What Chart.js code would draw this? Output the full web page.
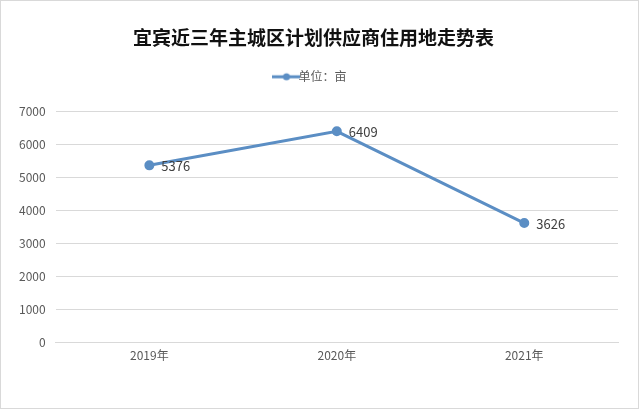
<!DOCTYPE html>
<html>
<head>
<meta charset="utf-8">
<script src="https://cdn.jsdelivr.net/npm/chart.js@4/dist/chart.umd.min.js"></script>
<style>
  html, body { margin: 0; padding: 0; background: #fff; }
  #wrap { width: 637px; height: 407px; border: 1px solid #d9d9d9; position: relative; }
</style>
</head>
<body>
<div id="wrap"><canvas id="myChart" width="637" height="407"></canvas></div>
<script>
'use strict';
const years = ['2019年', '2020年', '2021年'];
const landArea = [5376, 6409, 3626];
const seriesName = '单位：亩';
const titleText = '宜宾近三年主城区计划供应商住用地走势表';

const lineColor = '#5b8ec4';
const font = '"Noto Sans CJK SC", "Microsoft YaHei", sans-serif';

// little line + dot for the legend
function legendIcon() {
  let c = document.createElement('canvas');
  c.width = 28;
  c.height = 10;
  let g = c.getContext('2d');
  g.strokeStyle = lineColor;
  g.lineWidth = 3;
  g.beginPath();
  g.moveTo(0, 5);
  g.lineTo(28, 5);
  g.stroke();
  g.fillStyle = lineColor;
  g.beginPath();
  g.arc(14, 5, 3.5, 0, Math.PI * 2);
  g.fill();
  return c;
}

// extra room under the legend
const legendGap = {
  id: 'legendGap',
  beforeLayout(chart) {
    let lg = chart.legend;
    if (lg && !lg._gapped) {
      let fit = lg.fit;
      lg.fit = function () {
        fit.call(this);
        this.height += 19;
      };
      lg._gapped = true;
    }
  }
};

const valueLabels = {
  id: 'valueLabels',
  afterDatasetsDraw(chart) {
    let ctx = chart.ctx;
    let meta = chart.getDatasetMeta(0);
    ctx.save();
    ctx.font = '13px ' + font;
    ctx.fillStyle = '#404040';
    ctx.textAlign = 'left';
    ctx.textBaseline = 'middle';
    meta.data.forEach(function (pt, i) {
      ctx.fillText(String(landArea[i]), pt.x + 12, pt.y + 1);
    });
    ctx.restore();
  }
};

let ctx = document.getElementById('myChart').getContext('2d');
let myChart = new Chart(ctx, {
  type: 'line',
  data: {
    labels: years,
    datasets: [{
      label: seriesName,
      data: landArea,
      borderColor: lineColor,
      backgroundColor: lineColor,
      borderWidth: 3,
      pointRadius: 3.5,
      pointHoverRadius: 3.5,
      pointStyle: 'circle',
      tension: 0
    }]
  },
  options: {
    responsive: false,
    animation: false,
    layout: { padding: { left: 8, right: 20, top: 25, bottom: 39 } },
    plugins: {
      title: {
        display: true,
        text: titleText,
        color: '#111',
        font: { family: font, size: 19, weight: 'bold' },
        padding: { top: 0, bottom: 12 }
      },
      legend: {
        display: true,
        labels: {
          color: '#595959',
          font: { family: font, size: 12 },
          usePointStyle: true,
          generateLabels: function (chart) {
            return [{
              text: seriesName,
              pointStyle: legendIcon(),
              fillStyle: lineColor,
              strokeStyle: lineColor,
              lineWidth: 0,
              fontColor: '#595959',
              datasetIndex: 0
            }];
          },
          padding: 10
        }
      },
      tooltip: { enabled: false }
    },
    scales: {
      x: {
        offset: true,
        grid: { display: false, drawTicks: false },
        border: { color: '#d9d9d9' },
        ticks: { color: '#595959', font: { family: font, size: 12 }, padding: 6 }
      },
      y: {
        min: 0,
        max: 7000,
        ticks: {
          stepSize: 1000,
          color: '#595959',
          font: { family: font, size: 12 },
          padding: 10,
          callback: function (v) { return String(v); }
        },
        grid: { color: '#d9d9d9', drawTicks: false },
        border: { display: false }
      }
    }
  },
  plugins: [legendGap, valueLabels]
});
</script>
</body>
</html>
